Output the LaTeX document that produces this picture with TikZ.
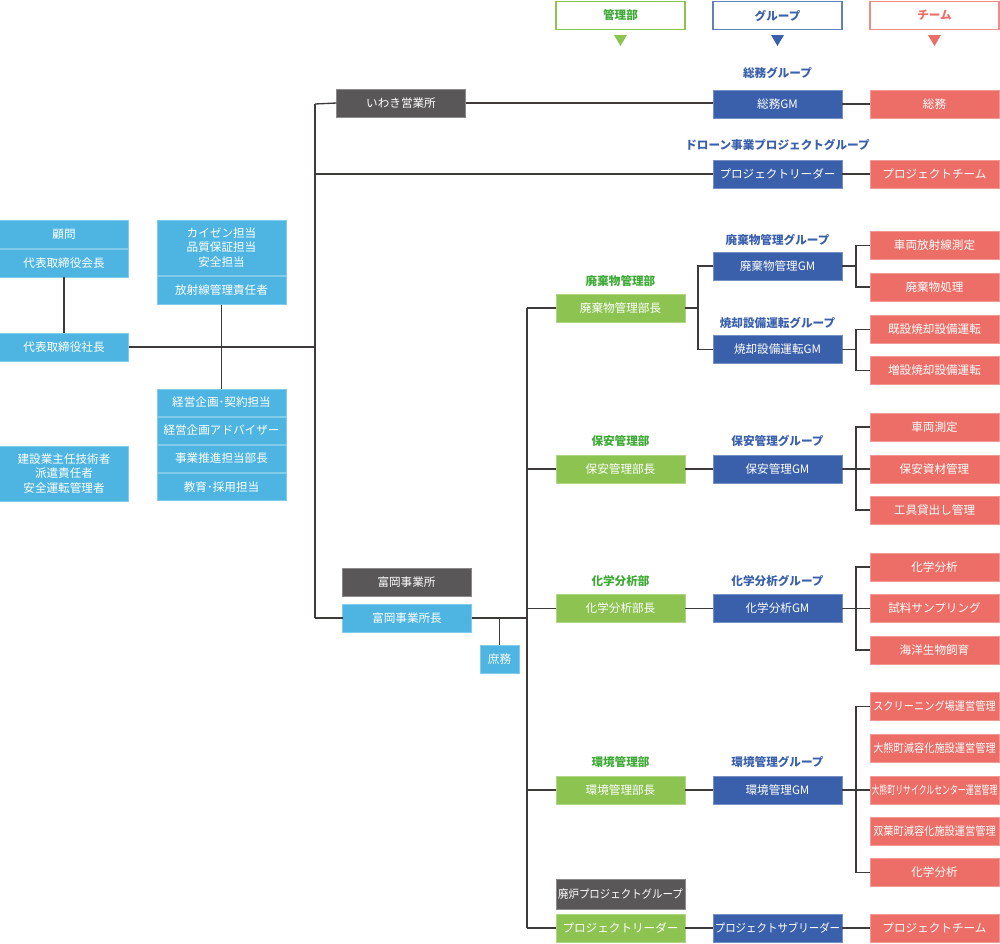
\documentclass[tikz,border=0pt]{standalone}
\usepackage{fontspec}
\newfontfamily\cjk{Noto Sans CJK JP}
\definecolor{lblue}{HTML}{4EB5E2}
\definecolor{gbox}{HTML}{8DC451}
\definecolor{gtext}{HTML}{3DAA35}
\definecolor{bbox}{HTML}{3A60AB}
\definecolor{rbox}{HTML}{EC6E66}
\definecolor{dgray}{HTML}{595757}
\definecolor{wire}{HTML}{3E3A39}
\begin{document}
\begin{tikzpicture}[x=0.75pt,y=-0.75pt,
  box/.style={minimum width=96.75pt, minimum height=21pt, inner sep=0pt, outer sep=0pt, text=white, align=center, line width=0.4pt, font=\cjk\fontsize{8.7}{10.8}\selectfont},
  lb/.style={box, fill=lblue, draw=lblue!70!white},
  gb/.style={box, fill=gbox, draw=gbox!70!white},
  bb/.style={box, fill=bbox, draw=bbox!70!white},
  rb/.style={box, fill=rbox, draw=rbox!70!white},
  db/.style={box, fill=dgray, draw=dgray!70!white},
  tall/.style={minimum height=41.25pt},
  thin/.style={minimum height=20.25pt},
  glabel/.style={font=\cjk\bfseries\fontsize{8.7}{10}\selectfont, text=gtext, inner sep=0pt},
  blabel/.style={font=\cjk\bfseries\fontsize{8.7}{10}\selectfont, text=bbox, inner sep=0pt},
  hdr/.style={minimum width=96.75pt, minimum height=21pt, inner sep=0pt, fill=white, line width=1pt, font=\cjk\bfseries\fontsize{8.7}{10}\selectfont},
  wire/.style={draw=wire, line width=1pt}]
\useasboundingbox (0,0) rectangle (1000,943);

% header
\node[hdr, draw=gbox, text=gtext] (hA) at (620.5,15.5) {管理部};
\node[hdr, draw=bbox!80!white, text=bbox] (hB) at (777.5,15.5) {グループ};
\node[hdr, draw=rbox!80!white, text=rbox] (hC) at (934.5,15.5) {チーム};
\fill[gbox] (614,35) -- (627,35) -- (620.5,46) -- cycle;
\fill[bbox] (771,35) -- (784,35) -- (777.5,46) -- cycle;
\fill[rbox] (928,35) -- (941,35) -- (934.5,46) -- cycle;

% left
\node[lb] (komon) at (64,234) {顧問};
\node[lb] (kaicho) at (64,263) {代表取締役会長};
\node[lb] (shacho) at (64,347) {代表取締役社長};
\node[lb, tall] (kensetsu) at (64,473.5) {建設業主任技術者\\派遣責任者\\安全運転管理者};
\node[lb, tall] (kaizen) at (221.5,247.5) {カイゼン担当\\品質保証担当\\安全担当};
\node[lb] (housha) at (221.5,290.5) {放射線管理責任者};
\node[lb, thin] (keiei1) at (221.5,402.5) {経営企画･契約担当};
\node[lb, thin] (keiei2) at (221.5,430.5) {経営企画アドバイザー};
\node[lb, thin] (jigyo) at (221.5,458.5) {事業推進担当部長};
\node[lb, thin] (kyoiku) at (221.5,487) {教育･採用担当};

% iwaki / drone
\node[db] (iwaki) at (401,103) {いわき営業所};
\node[blabel] (lsoumu) at (777.5,73) {総務グループ};
\node[bb] (soumuGM) at (777.5,104) {総務GM};
\node[rb] (soumu) at (934.5,104) {総務};
\node[blabel] (ldrone) at (777.5,145) {ドローン事業プロジェクトグループ};
\node[bb] (droneGM) at (777.5,174) {プロジェクトリーダー};
\node[rb] (droneT) at (934.5,174) {プロジェクトチーム};

% tomioka
\node[db] (tomioka) at (406.5,582.5) {富岡事業所};
\node[lb] (tomiokaC) at (407,618) {富岡事業所長};
\node[lb, minimum width=29.25pt] (shomu) at (499.5,659) {庶務};

% haiki
\node[glabel] (lhaiki) at (620.5,281) {廃棄物管理部};
\node[gb] (haikiB) at (620.5,308) {廃棄物管理部長};
\node[blabel] (lhaikiG) at (777.5,240) {廃棄物管理グループ};
\node[bb] (haikiGM) at (777.5,266) {廃棄物管理GM};
\node[blabel] (lshouG) at (777.5,323) {焼却設備運転グループ};
\node[bb] (shouGM) at (777.5,349.5) {焼却設備運転GM};
\node[rb] (t11) at (934.5,245.5) {車両放射線測定};
\node[rb] (t12) at (934.5,287) {廃棄物処理};
\node[rb] (t13) at (934.5,329.5) {既設焼却設備運転};
\node[rb] (t14) at (934.5,370.5) {増設焼却設備運転};

% hoan
\node[glabel] (lhoan) at (620.5,441) {保安管理部};
\node[gb] (hoanB) at (620.5,469) {保安管理部長};
\node[blabel] (lhoanG) at (777.5,441) {保安管理グループ};
\node[bb] (hoanGM) at (777.5,469) {保安管理GM};
\node[rb] (t21) at (934.5,427) {車両測定};
\node[rb] (t22) at (934.5,469) {保安資材管理};
\node[rb] (t23) at (934.5,510) {工具貸出し管理};

% kagaku
\node[glabel] (lkagaku) at (620.5,581) {化学分析部};
\node[gb] (kagakuB) at (620.5,608.5) {化学分析部長};
\node[blabel] (lkagakuG) at (777.5,581) {化学分析グループ};
\node[bb] (kagakuGM) at (777.5,608.5) {化学分析GM};
\node[rb] (t31) at (934.5,567) {化学分析};
\node[rb] (t32) at (934.5,608.5) {試料サンプリング};
\node[rb] (t33) at (934.5,650) {海洋生物飼育};

% kankyo
\node[glabel] (lkankyo) at (620.5,762) {環境管理部};
\node[gb] (kankyoB) at (620.5,790) {環境管理部長};
\node[blabel] (lkankyoG) at (777.5,762) {環境管理グループ};
\node[bb] (kankyoGM) at (777.5,790) {環境管理GM};
\node[rb] (t41) at (934.5,706.5) {\scalebox{0.88}[1]{スクリーニング場運営管理}};
\node[rb] (t42) at (934.5,748.5) {\scalebox{0.88}[1]{大熊町減容化施設運営管理}};
\node[rb] (t43) at (934.5,790) {\scalebox{0.68}[1]{大熊町リサイクルセンター運営管理}};
\node[rb] (t44) at (934.5,831) {\scalebox{0.88}[1]{双葉町減容化施設運営管理}};
\node[rb] (t45) at (934.5,872.5) {化学分析};

% hairo
\node[db, minimum height=22.5pt] (hairo) at (620.5,894) {\scalebox{0.9}[1]{廃炉プロジェクトグループ}};
\node[gb] (hairoL) at (620.5,928) {プロジェクトリーダー};
\node[bb] (hairoS) at (777.5,928) {\scalebox{0.9}[1]{プロジェクトサブリーダー}};
\node[rb] (hairoT) at (934.5,928) {プロジェクトチーム};

% coordinates
\coordinate (trunkTop) at (315,104);
\coordinate (trunkBot) at (315,618);
\coordinate (busTop) at (527,308);
\coordinate (busBot) at (527,928);
\coordinate (hk) at (698,308);
\coordinate (brx) at (856,0);

% connectors
\begin{scope}[wire]
\draw (trunkTop) -- (trunkBot);
\draw (trunkTop) -- (iwaki.west);
\draw (iwaki.east) -- (iwaki.east -| soumuGM.west);
\draw (soumuGM.east) -- (soumu.west);
\draw (trunkTop |- droneGM.west) -- (droneGM.west);
\draw (droneGM.east) -- (droneT.west);
\draw (shacho.east) -- (shacho.east -| trunkTop);
\draw (trunkBot) -- (tomiokaC.west);
\draw (kaicho.south) -- (shacho.north);
\draw (housha.south) -- (keiei1.north);
\draw (busTop) -- (busBot);
\draw (tomiokaC.east) -- (tomiokaC.east -| busTop);
\draw (shomu.north) -- (shomu.north |- tomiokaC.east);
\draw (busTop) -- (haikiB.west);
\draw (busTop |- hoanB.west) -- (hoanB.west);
\draw (busTop |- kagakuB.west) -- (kagakuB.west);
\draw (busTop |- kankyoB.west) -- (kankyoB.west);
\draw (busTop |- hairoL.west) -- (hairoL.west);
% haiki
\draw (haikiB.east) -- (hk);
\draw (haikiGM.west) -| (hk) |- (shouGM.west);
\draw (haikiGM.east) -- (brx |- haikiGM.east);
\draw (t11.west) -| (brx |- haikiGM.east) |- (t12.west);
\draw (shouGM.east) -- (brx |- shouGM.east);
\draw (t13.west) -| (brx |- shouGM.east) |- (t14.west);
% hoan
\draw (hoanB.east) -- (hoanGM.west);
\draw (hoanGM.east) -- (t22.west);
\draw (t21.west) -| (brx |- hoanGM.east) |- (t23.west);
% kagaku
\draw (kagakuB.east) -- (kagakuGM.west);
\draw (kagakuGM.east) -- (t32.west);
\draw (t31.west) -| (brx |- kagakuGM.east) |- (t33.west);
% kankyo
\draw (kankyoB.east) -- (kankyoGM.west);
\draw (kankyoGM.east) -- (t43.west);
\draw (t41.west) -| (brx |- kankyoGM.east) |- (t45.west);
% hairo
\draw (hairoL.east) -- (hairoS.west);
\draw (hairoS.east) -- (hairoT.west);
\end{scope}
\end{tikzpicture}
\end{document}
